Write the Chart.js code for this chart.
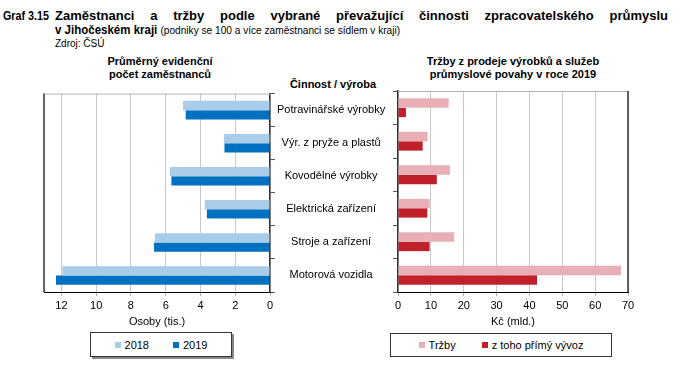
<!DOCTYPE html>
<html>
<head>
<meta charset="utf-8">
<script src="https://cdn.jsdelivr.net/npm/chart.js@4"></script>
<style>
  body { margin: 0; width: 693px; height: 373px; background: #fff; position: relative; overflow: hidden; font-family: 'Liberation Sans', Arial, sans-serif; color: #000; }
  .abs { position: absolute; }
  .title { font-size: 12px; font-weight: bold; line-height: 14px; transform: scaleX(0.92); transform-origin: left top; }
  .sub { font-size: 11px; font-weight: bold; text-align: center; line-height: 13px; }
  .legend { position: absolute; border: 1px solid #333; background: #fff; font-size: 11px; display: flex; align-items: center; }
  .legend span.box { display: inline-block; width: 6px; height: 6px; margin-right: 4px; }
  .legend .item { display: flex; align-items: center; }
</style>
</head>
<body>
<div class="abs title" style="left:3px;top:9px;font-size:12.5px;transform:scaleX(0.86);">Graf 3.15</div>
<div class="abs title" style="left:55px;top:9px;width:613px;font-size:13px;transform:none;text-align:justify;text-align-last:justify;">Zaměstnanci a tržby podle vybrané převažující činnosti zpracovatelského průmyslu</div>
<div class="abs title" style="left:55px;top:23px;white-space:nowrap;font-size:12.5px;">v Jihočeském kraji <span style="font-weight:normal;font-size:11px;">(podniky se 100 a více zaměstnanci se sídlem v kraji)</span></div>
<div class="abs" style="left:55px;top:38px;font-size:10px;">Zdroj: ČSÚ</div>

<div class="abs sub" style="left:60px;top:55px;width:200px;">Průměrný evidenční<br>počet zaměstnanců</div>
<div class="abs sub" style="left:283px;top:78px;width:100px;">Činnost / výroba</div>
<div class="abs sub" style="left:400px;top:55px;width:226px;">Tržby z prodeje výrobků a služeb<br>průmyslové povahy v roce 2019</div>

<canvas id="left" class="abs" style="left:0;top:85px;" width="392" height="245"></canvas>
<canvas id="right" class="abs" style="left:392px;top:85px;" width="301" height="245"></canvas>

<div id="legendLeft" class="legend" style="left:90px;top:332px;width:140px;height:23px;box-shadow:2px 2px 0 #888;justify-content:center;gap:24px;"></div>
<div id="legendRight" class="legend" style="left:390px;top:333px;width:220px;height:22px;justify-content:center;gap:26px;"></div>

<script>
const categories = ['Potravinářské výrobky', 'Výr. z pryže a plastů', 'Kovodělné výrobky', 'Elektrická zařízení', 'Stroje a zařízení', 'Motorová vozidla'];

// Průměrný evidenční počet zaměstnanců (tis.)
const employees2018 = [5.0, 2.65, 5.77, 3.75, 6.62, 11.94];
const employees2019 = [4.85, 2.62, 5.67, 3.63, 6.67, 12.31];

// Tržby 2019 (mld. Kč)
const sales = [15.4, 9.0, 15.8, 9.6, 17.1, 67.9];
const salesExport = [2.4, 7.5, 11.8, 8.9, 9.6, 42.3];

const seriesLeft = ['2018', '2019'];
const seriesRight = ['Tržby', 'z toho přímý vývoz'];
const colorsLeft = ['#a9cde9', '#0070c0'];
const colorsRight = ['#e8b0b6', '#c0202a'];

const FONT = 'Liberation Sans';

// frame of the plot area: gray top, dark outer side
function frame(side) {
    return {
        id: 'frame',
        afterDraw(chart) {
            const { ctx, chartArea: a } = chart;
            ctx.save();
            ctx.lineWidth = 1;
            ctx.strokeStyle = '#b4b4b4';
            ctx.beginPath();
            ctx.moveTo(a.left, a.top + 0.5);
            ctx.lineTo(a.right, a.top + 0.5);
            ctx.stroke();
            ctx.strokeStyle = '#333';
            ctx.lineWidth = 1.5;
            const x = side === 'left' ? a.left : a.right;
            ctx.beginPath();
            ctx.moveTo(x, a.top);
            ctx.lineTo(x, a.bottom);
            ctx.stroke();
            ctx.restore();
        }
    };
}

function makeChart(id, labels, data, colors, opts) {
    return new Chart(document.getElementById(id), {
        type: 'bar',
        data: {
            labels: categories,
            datasets: labels.map((l, i) => ({
                label: l,
                data: data[i],
                backgroundColor: colors[i],
                borderWidth: 0,
                categoryPercentage: 0.56,
                barPercentage: 1.0
            }))
        },
        options: {
            indexAxis: 'y',
            responsive: false,
            animation: false,
            layout: { padding: opts.padding },
            plugins: { legend: { display: false }, tooltip: { enabled: false } },
            scales: {
                x: {
                    type: 'linear',
                    position: 'bottom',
                    reverse: opts.reverse,
                    min: 0,
                    max: opts.max,
                    ticks: {
                        stepSize: opts.step,
                        includeBounds: false,
                        color: '#000',
                        font: { family: FONT, size: 11 },
                        padding: 3,
                        maxRotation: 0
                    },
                    grid: { color: '#c8c8c8', tickLength: 4, tickColor: '#b4b4b4' },
                    border: { color: '#000', width: 1 },
                    title: {
                        display: true,
                        text: opts.xTitle,
                        color: '#000',
                        font: { family: FONT, size: 11 },
                        padding: { top: 0, bottom: 1 }
                    },
                    afterFit(scale) { scale.height = 38; }
                },
                y: {
                    position: opts.yPos,
                    offset: true,
                    grid: { offset: true, drawOnChartArea: false, tickLength: 5, tickColor: '#555' },
                    border: { color: '#333', width: 1.5 },
                    ticks: {
                        display: opts.yLabels,
                        crossAlign: 'center',
                        padding: 2,
                        color: '#000',
                        font: { family: FONT, size: 11 }
                    },
                    afterFit(scale) { scale.width = opts.yWidth; }
                }
            }
        },
        plugins: [frame(opts.frameSide)]
    });
}

makeChart('left', seriesLeft, [employees2018, employees2019], colorsLeft, {
    padding: { left: 44, top: 6, right: 0, bottom: 0 },
    reverse: true, max: 13, step: 2, xTitle: 'Osoby (tis.)',
    yPos: 'right', yLabels: true, yWidth: 122, frameSide: 'left'
});

makeChart('right', seriesRight, [sales, salesExport], colorsRight, {
    padding: { left: 0, top: 6, right: 65, bottom: 0 },
    reverse: false, max: 70, step: 10, xTitle: 'Kč (mld.)',
    yPos: 'left', yLabels: false, yWidth: 5, frameSide: 'right'
});

function legend(id, labels, colors) {
    document.getElementById(id).innerHTML = labels.map((l, i) =>
        `<div class="item"><span class="box" style="background:${colors[i]}"></span>${l}</div>`).join('');
}
legend('legendLeft', seriesLeft, colorsLeft);
legend('legendRight', seriesRight, colorsRight);
</script>
</body>
</html>
